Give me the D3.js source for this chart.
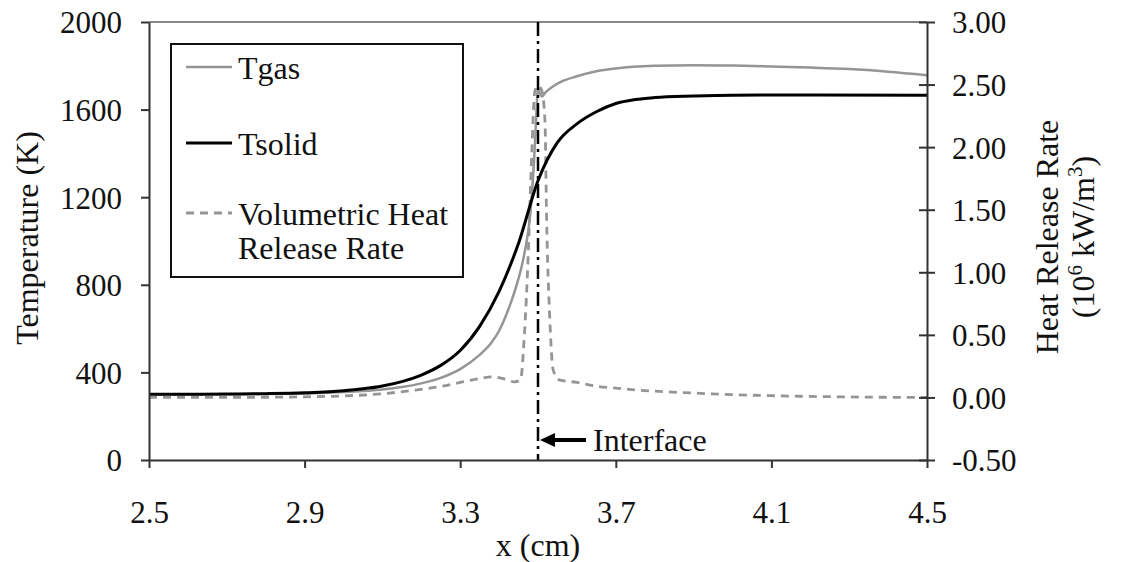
<!DOCTYPE html>
<html><head><meta charset="utf-8">
<script src="https://cdn.jsdelivr.net/npm/d3@7"></script>
<style>body{margin:0;background:#fff}</style>
</head><body><svg id="c" width="1122" height="562"></svg>
<script>
// ---- data ----
const tgasX = [2.5,2.7,2.9,3.0,3.1,3.15,3.2,3.25,3.3,3.35,3.38,3.4,3.42,3.44,3.46,3.47,3.48,3.485,3.49,3.495,3.5,3.505,3.51,3.52,3.54,3.56,3.6,3.65,3.7,3.8,3.9,4.0,4.1,4.2,4.3,4.4,4.5];
const tgasY = [300,300,303,310,322,333,350,375,415,480,535,590,670,770,900,990,1120,1230,1370,1550,1700,1672,1660,1680,1708,1728,1752,1775,1788,1800,1803,1801,1797,1792,1785,1773,1757];
const tsolidX = [2.5,2.6,2.7,2.8,2.9,3.0,3.05,3.1,3.15,3.2,3.25,3.3,3.35,3.4,3.45,3.5,3.55,3.6,3.65,3.7,3.75,3.8,3.9,4.0,4.2,4.5];
const tsolidY = [300,300,301,303,307,316,325,338,358,388,432,500,610,770,990,1275,1450,1535,1590,1628,1646,1655,1662,1666,1667,1665];
const hrrX = [2.5,2.7,2.9,3.0,3.1,3.2,3.25,3.3,3.35,3.38,3.41,3.44,3.455,3.465,3.475,3.484,3.492,3.5,3.51,3.518,3.522,3.53,3.539,3.555,3.6,3.65,3.7,3.75,3.8,3.9,4.0,4.1,4.2,4.3,4.4,4.5];
const hrrY = [0.0,0.0,0.005,0.012,0.03,0.065,0.087,0.12,0.15,0.165,0.15,0.125,0.14,0.5,1.15,1.95,2.45,2.49,2.45,2.2,1.45,0.65,0.22,0.14,0.12,0.09,0.075,0.06,0.05,0.035,0.022,0.014,0.008,0.004,0.001,0.0];
const xTicks = [2.5,2.9,3.3,3.7,4.1,4.5];
const yLeftTicks = [0,400,800,1200,1600,2000];
const yRightTicks = [-0.5,0,0.5,1,1.5,2,2.5,3];
const interfaceX = 3.5;
const legendLabels = ["Tgas","Tsolid","Volumetric Heat","Release Rate"];

// ---- layout ----
const FONT = '"Liberation Serif"';
const svg = d3.select("#c").style("font-family",FONT);
const L=149,R=927,T=22,B=460;
const x = d3.scaleLinear([2.5,4.5],[L,R]);
const yL = d3.scaleLinear([0,2000],[B,T]);
const yR = d3.scaleLinear([-0.5,3],[B,T]);
const FS = 31, FT = 32;
const gray = "#959595";

svg.append("line").attr("x1",L).attr("x2",R).attr("y1",T).attr("y2",T).attr("stroke","#888").attr("stroke-width",2);

const line = (xs,ys,sy)=>d3.line().x((d,i)=>x(xs[i])).y((d,i)=>sy(ys[i])).curve(d3.curveMonotoneX)(xs);

svg.append("path").attr("d",line(hrrX,hrrY,yR)).attr("fill","none").attr("stroke",gray).attr("stroke-width",2.8).attr("stroke-dasharray","8,6");
svg.append("path").attr("d",line(tgasX,tgasY,yL)).attr("fill","none").attr("stroke",gray).attr("stroke-width",2.5);
svg.append("path").attr("d",line(tsolidX,tsolidY,yL)).attr("fill","none").attr("stroke","#000").attr("stroke-width",3);

svg.append("line").attr("x1",x(interfaceX)).attr("x2",x(interfaceX)).attr("y1",T).attr("y2",B)
  .attr("stroke","#000").attr("stroke-width",2.5).attr("stroke-dasharray","14,5,3,5");

function styleAxis(g){g.attr("font-family",null).attr("font-size",null);
  g.select(".domain").attr("stroke","#333").attr("stroke-width",2);
  g.selectAll(".tick line").attr("stroke","#333").attr("stroke-width",2);
  g.selectAll("text").style("font-size",FS+"px").attr("fill","#111");}
const gx = svg.append("g").attr("transform",`translate(0,${B})`)
  .call(d3.axisBottom(x).tickValues(xTicks).tickSize(8).tickSizeOuter(0).tickFormat(d=>d.toFixed(1)));
styleAxis(gx); gx.selectAll("text").attr("y",63).attr("dy",0);
const gl = svg.append("g").attr("transform",`translate(${L},0)`)
  .call(d3.axisLeft(yL).tickValues(yLeftTicks).tickSize(8).tickSizeOuter(0).tickFormat(d=>d));
styleAxis(gl); gl.selectAll("text").attr("x",-27).attr("dy","0.35em");
const gr = svg.append("g").attr("transform",`translate(${R},0)`)
  .call(d3.axisRight(yR).tickValues(yRightTicks).tickSize(8).tickSizeOuter(0).tickFormat(d=>d.toFixed(2)));
styleAxis(gr); gr.selectAll("text").attr("x",25).attr("dy","0.35em");
gr.selectAll(".tick").append("line").attr("x2",-8).attr("stroke","#333").attr("stroke-width",2);

svg.append("text").attr("x",538).attr("y",556).attr("text-anchor","middle").style("font-size",FT+"px").text("x (cm)");
svg.append("text").attr("transform","translate(38,238) rotate(-90)").attr("text-anchor","middle").style("font-size",FT+"px").text("Temperature (K)");
svg.append("text").attr("transform","translate(1058,237) rotate(-90)").attr("text-anchor","middle").style("font-size",FT+"px").text("Heat Release Rate");
const t2 = svg.append("text").attr("transform","translate(1094,237) rotate(-90)").attr("text-anchor","middle").style("font-size",FT+"px");
t2.append("tspan").text("(10");
t2.append("tspan").style("font-size","21px").attr("dy",-12).text("6");
t2.append("tspan").attr("dy",12).text(" kW/m");
t2.append("tspan").style("font-size","21px").attr("dy",-12).text("3");
t2.append("tspan").attr("dy",12).text(")");

const lg = svg.append("g");
lg.append("rect").attr("x",171).attr("y",44).attr("width",292).attr("height",233).attr("fill","#fff").attr("stroke","#111").attr("stroke-width",2);
const items=[{y:67,c:gray,w:2.5,da:null,t:[legendLabels[0]]},{y:143,c:"#000",w:3,da:null,t:[legendLabels[1]]},{y:213,c:gray,w:2.8,da:"8,6",t:[legendLabels[2],legendLabels[3]]}];
items.forEach(it=>{
  lg.append("line").attr("x1",186).attr("x2",232).attr("y1",it.y).attr("y2",it.y).attr("stroke",it.c).attr("stroke-width",it.w).attr("stroke-dasharray",it.da);
  it.t.forEach((s,i)=>lg.append("text").attr("x",238).attr("y",it.y+12+i*34).style("font-size",FT+"px").text(s));
});

const ax0 = x(interfaceX)+2;
svg.append("line").attr("x1",ax0+12).attr("x2",586).attr("y1",440).attr("y2",440).attr("stroke","#000").attr("stroke-width",4);
svg.append("path").attr("d",`M${ax0},440 L${ax0+15},433 L${ax0+15},447 Z`).attr("fill","#000");
svg.append("text").attr("x",593).attr("y",451).style("font-size",FT+"px").text("Interface");

svg.selectAll("text").style("font-family",FONT).style("fill","#111");
</script></body></html>
